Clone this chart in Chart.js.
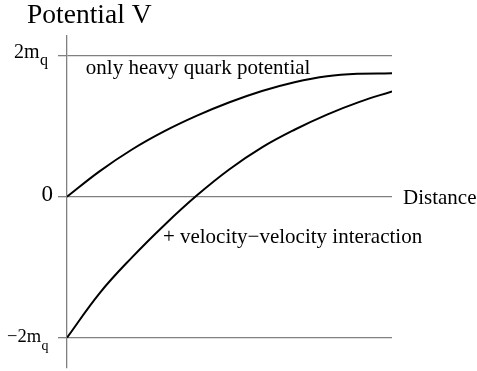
<!DOCTYPE html>
<html>
<head>
<meta charset="utf-8">
<script src="https://cdn.jsdelivr.net/npm/chart.js@4"></script>
<style>
  body { margin: 0; background: #fff; }
  #wrap { width: 477px; height: 371px; }
</style>
</head>
<body>
<div id="wrap"><canvas id="potential"></canvas></div>
<script>
// values (distance 0..1, potential in units of m_q)
const distance = [0, 0.1, 0.2, 0.3, 0.4, 0.5, 0.6, 0.7, 0.8, 0.9, 1.0];
const heavyQuark = [0, 0.36, 0.67, 0.93, 1.15, 1.34, 1.5, 1.625, 1.71, 1.745, 1.75];
const withVelocity = [-2, -1.37, -0.86, -0.4, 0.02, 0.39, 0.7, 0.95, 1.165, 1.345, 1.495];
const yTicks = [-2, 0, 2];

const serif = "'Liberation Serif', 'Times New Roman', serif";
const grey = "#808080";

// label with a subscript q right after it
function subLabel(c, text, x, y, size, drop) {
  c.font = size + "px " + serif;
  c.fillText(text, x, y);
  let w = c.measureText(text).width;
  c.font = Math.round(size * 0.78) + "px " + serif;
  c.fillText("q", x + w + 0.5, y + drop);
}

// draw the texts (axis labels with subscripts, curve notes)
const textPlugin = {
  id: "texts",
  afterDraw(chart) {
    const c = chart.ctx;
    const xs = chart.scales.x;
    const ys = chart.scales.y;
    const area = chart.chartArea;
    c.save();
    c.fillStyle = "#000";
    c.textBaseline = "alphabetic";
    c.textAlign = "left";

    c.font = "27.5px " + serif;
    c.fillText("Potential V", 27, 23);

    // tick labels
    let y2 = ys.getPixelForValue(2);
    subLabel(c, "2m", 14, y2 + 2, 20, 7);

    let y0 = ys.getPixelForValue(0);
    c.font = "23px " + serif;
    c.textAlign = "right";
    c.fillText("0", 53, y0 + 4);
    c.textAlign = "left";

    let ym = ys.getPixelForValue(-2);
    subLabel(c, "\u22122m", 7, ym + 4, 18.5, 8);

    // axis name and curve notes
    c.font = "21px " + serif;
    c.fillText("Distance", area.right + 11, y0 + 7);
    c.fillText("only heavy quark potential", xs.getPixelForValue(0.058), ys.getPixelForValue(1.74));
    c.fillText("+ velocity\u2212velocity interaction", xs.getPixelForValue(0.295), ys.getPixelForValue(-0.655));
    c.restore();
  },
};

const ctx = document.getElementById("potential");

new Chart(ctx, {
  type: "line",
  data: {
    datasets: [
      {
        label: "only heavy quark potential",
        data: distance.map((d, i) => ({ x: d, y: heavyQuark[i] })),
        borderColor: "#000",
        borderWidth: 2,
        pointRadius: 0,
        tension: 0.4,
      },
      {
        label: "+ velocity-velocity interaction",
        data: distance.map((d, i) => ({ x: d, y: withVelocity[i] })),
        borderColor: "#000",
        borderWidth: 2,
        pointRadius: 0,
        tension: 0.4,
      },
    ],
  },
  options: {
    responsive: true,
    maintainAspectRatio: false,
    animation: false,
    layout: { padding: { left: 0, right: 85, top: 36, bottom: 3 } },
    plugins: {
      legend: { display: false },
      tooltip: { enabled: false },
    },
    scales: {
      x: {
        type: "linear",
        min: 0,
        max: 1,
        display: false,
      },
      y: {
        min: -2.43,
        max: 2.28,
        afterBuildTicks: (scale) => {
          scale.ticks = yTicks.map((v) => ({ value: v }));
        },
        afterFit: (scale) => {
          scale.width = 67;
        },
        ticks: { display: false },
        grid: {
          color: grey,
          lineWidth: 1.3,
          drawTicks: true,
          tickLength: 9,
        },
        border: { display: true, color: grey, width: 1.3 },
      },
    },
  },
  plugins: [textPlugin],
});
</script>
</body>
</html>
